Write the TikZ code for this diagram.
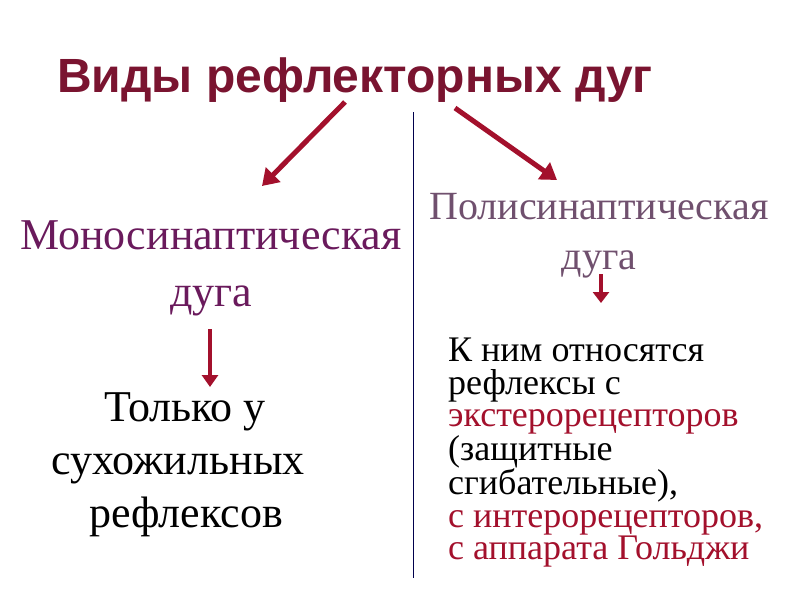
\documentclass[tikz,border=0pt]{standalone}
\usepackage{fontspec}
\usetikzlibrary{arrows.meta}
\setmainfont{Liberation Serif}
\newfontfamily\arialf{Liberation Sans}
\begin{document}
\begin{tikzpicture}[x=1pt,y=-1pt]
\definecolor{titlec}{HTML}{7A1430}
\definecolor{monoc}{HTML}{6A1A5C}
\definecolor{polyc}{HTML}{70506E}
\definecolor{arrc}{HTML}{A3102C}
\definecolor{redt}{HTML}{A3102C}
\tikzset{bigarrow/.style={draw=arrc,line width=5pt,-{Triangle[length=16pt,width=20pt]}},
 txt/.style={inner sep=0pt,align=center}}
\useasboundingbox[fill=white] (0,0) rectangle (800,600);
\node[txt,text=titlec,font=\arialf\bfseries\fontsize{48}{52}\selectfont,anchor=west] (title) at (57,80) {Виды рефлекторных дуг};
\draw[color=black!70!blue,line width=1pt] (413,112) -- (413,578);
\coordinate (l0) at (345,102); \coordinate (l1) at (262,186);
\coordinate (r0) at (455,108); \coordinate (r1) at (557,180);
\coordinate (m0) at (210,329); \coordinate (m1) at (210,387);
\coordinate (p0) at (601,274); \coordinate (p1) at (601,303);
\draw[bigarrow] (l0) -- (l1);
\draw[bigarrow] (r0) -- (r1);
\node[txt,text=monoc,font=\fontsize{44}{57}\selectfont] (mono) at (211,268) {Моносинаптическая\\дуга};
\node[txt,text=polyc,font=\fontsize{40}{50}\selectfont] (poly) at (599,236) {Полисинаптическая\\дуга};
\node[txt,font=\fontsize{44}{53}\selectfont] (only) at (178,465) {\hspace*{14pt}Только у\\сухожильных\\\hspace*{16pt}рефлексов};
\node[txt,font=\fontsize{36}{32.5}\selectfont,align=left,anchor=north west] (list) at (448,338) {К ним относятся\\рефлексы с\\\textcolor{redt}{экстерорецепторов}\\(защитные\\сгибательные),\\\textcolor{redt}{с интерорецепторов,}\\\textcolor{redt}{с аппарата Гольджи}};
\draw[draw=arrc,line width=4pt,-{Triangle[length=12pt,width=16pt]}] (m0) -- (m1);
\draw[draw=arrc,line width=4pt,-{Triangle[length=11pt,width=16pt]}] (p0) -- (p1);
\end{tikzpicture}
\end{document}
